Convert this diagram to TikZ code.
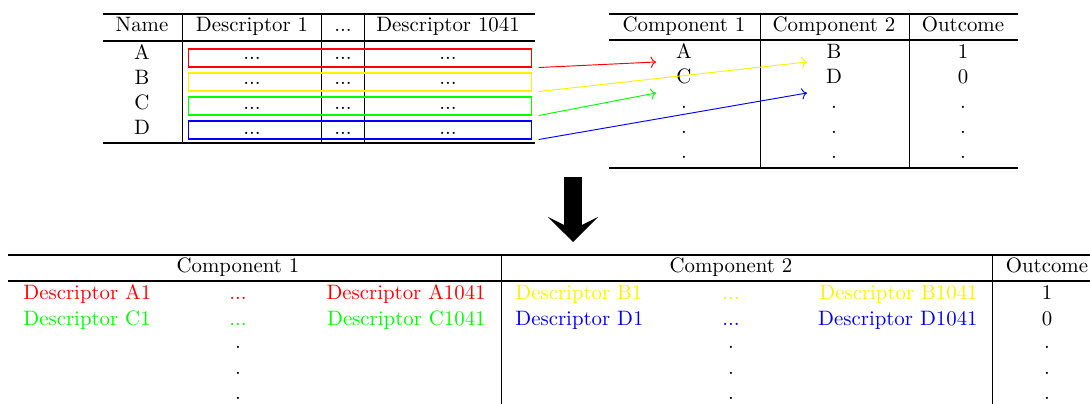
\documentclass[tikz,border=0pt]{standalone}
\usepackage{tikz}
\usetikzlibrary{arrows.meta,positioning}
\tikzstyle{cell} = [anchor=base, inner sep=0pt]
\tikzstyle{lcell} = [anchor=base west, inner sep=0pt]
\tikzstyle{rcell} = [anchor=base east, inner sep=0pt]
\tikzstyle{heavyrule} = [line width=0.8pt]
\tikzstyle{lightrule} = [line width=0.5pt]
\tikzstyle{rowbox} = [draw, line width=0.55pt, minimum width=165pt, minimum height=8.6pt, inner sep=0pt]
\tikzstyle{link} = [->, line width=0.45pt]
\tikzstyle{bigarrow} = [line width=8.6pt, -{Stealth[length=12pt,width=24pt,inset=6pt]}]

\begin{document}
\begin{tikzpicture}[x=0.48pt, y=-0.48pt]
\useasboundingbox (0,0) rectangle (1090,404);

% Descriptor table
\draw[heavyrule] (103,14) -- (535,14);
\draw[lightrule] (103,41) -- (535,41);
\draw[heavyrule] (103,143) -- (535,143);
\foreach \x in {182,321,364}
    \draw (\x,14) -- (\x,143);
\node[cell] (dName) at (142,32) {Name};
\node[cell] (dFirst) at (252,32) {Descriptor 1};
\node[cell] (dDots) at (343,32) {...};
\node[cell] (dLast) at (448,32) {Descriptor 1041};

% Rows, one coloured box each
\foreach \n/\c [count=\i from 0] in {A/red,B/yellow,C/green,D/blue} {
    \pgfmathsetmacro{\yb}{59.5+25*\i}
    \pgfmathsetmacro{\yr}{58+24*\i}
    \node[cell] (name\n) at (142,\yb) {\n};
    \foreach \x in {252,343,448}
        \node[cell] (val\n\x) at (\x,\yb) {...};
    \node[rowbox, draw=\c] (box\n) at (360,\yr) {};
}

% Pair table
\draw[heavyrule] (609,14) -- (1018,14);
\draw[lightrule] (609,40) -- (1018,40);
\draw[heavyrule] (609,168) -- (1018,168);
\foreach \x in {760,909}
    \draw (\x,14) -- (\x,168);
\node[cell] (pFirst) at (684,32) {Component 1};
\node[cell] (pSecond) at (834,32) {Component 2};
\node[cell] (pOut) at (963,32) {Outcome};
\node[cell] (pA) at (684,58.5) {A};
\node[cell] (pB) at (834,58.5) {B};
\node[cell] (pOne) at (963,58.5) {1};
\node[cell] (pC) at (684,83.5) {C};
\node[cell] (pD) at (834,83.5) {D};
\node[cell] (pZero) at (963,83.5) {0};
\foreach \k in {0,1,2}
    \foreach \x in {684,834,963}
        \node[cell] (pdot\k\x) at (\x,108.5+25*\k) {.};

% Links from rows to pair cells
\coordinate (endA) at (656,62);
\coordinate (endB) at (807,62);
\coordinate (endC) at (656,93);
\coordinate (endD) at (807,93);
\foreach \n/\c in {A/red,B/yellow,C/green,D/blue}
    \draw[link, \c] ([xshift=3pt]box\n.south east) -- (end\n);

% Down arrow
\coordinate (downTop) at (573,177);
\coordinate (downTip) at (573,242);
\draw[bigarrow] (downTop) -- (downTip);

% Merged table
\draw[heavyrule] (8,255) -- (1090,255);
\draw[lightrule] (8,281) -- (1090,281);
\foreach \x in {501,992}
    \draw (\x,255) -- (\x,404);
\node[cell] (mFirst) at (238,273) {Component 1};
\node[cell] (mSecond) at (731,273) {Component 2};
\node[cell] (mOut) at (1047,273) {Outcome};
\foreach \l/\cl/\r/\cr/\o [count=\i from 0] in {A/red/B/yellow/1,C/green/D/blue/0} {
    \pgfmathsetmacro{\yb}{300+25.5*\i}
    \node[lcell, text=\cl] (m\l first) at (23,\yb) {Descriptor \l1};
    \node[cell, text=\cl] (m\l dots) at (238,\yb) {...};
    \node[rcell, text=\cl] (m\l last) at (486,\yb) {Descriptor \l1041};
    \node[lcell, text=\cr] (m\r first) at (515,\yb) {Descriptor \r1};
    \node[cell, text=\cr] (m\r dots) at (731,\yb) {...};
    \node[rcell, text=\cr] (m\r last) at (978,\yb) {Descriptor \r1041};
    \node[cell] (mOut\i) at (1047,\yb) {\o};
}
\foreach \k in {0,1,2}
    \foreach \x in {238,731,1047}
        \node[cell] (mdot\k\x) at (\x,349+25.2*\k) {.};
\end{tikzpicture}
\end{document}
